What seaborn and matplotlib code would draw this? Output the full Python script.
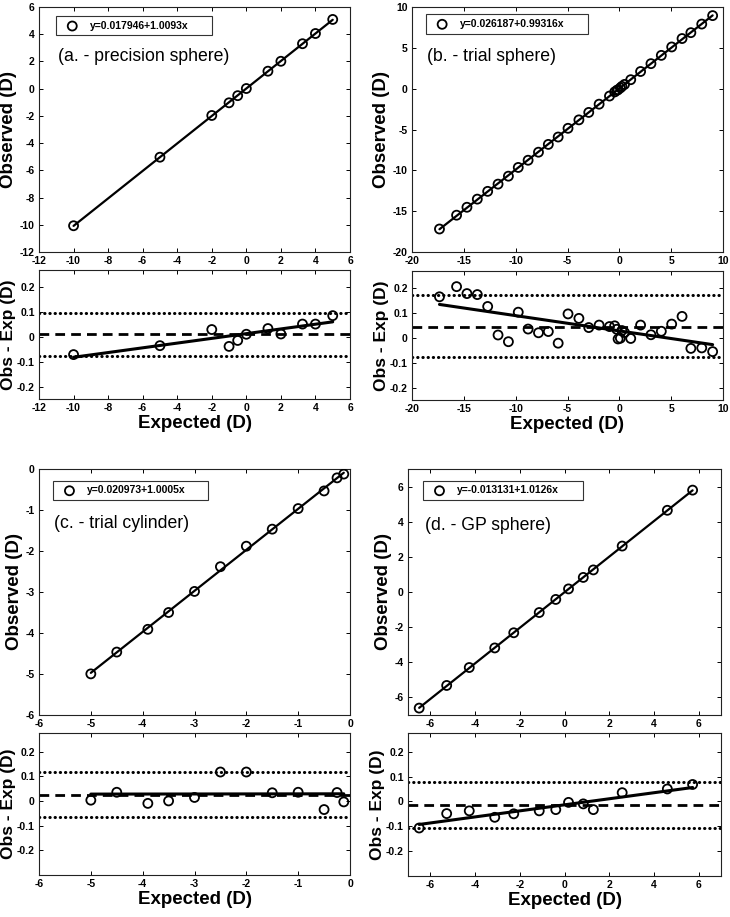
import matplotlib
matplotlib.use("Agg")
import matplotlib.pyplot as plt
import numpy as np
import seaborn as sns

# ---- data ----
a_expected = [-10, -5, -2, -1, -0.5, 0, 1.25, 2, 3.25, 4, 5]
a_diff = [-0.071, -0.035, 0.030, -0.038, -0.014, 0.011, 0.034, 0.012, 0.052, 0.052, 0.086]

b_expected = [-17.35, -15.7, -14.7, -13.7, -12.7, -11.7, -10.7, -9.75, -8.8, -7.8,
              -6.85, -5.9, -4.95, -3.9, -2.95, -1.95, -0.95, -0.45, -0.25, -0.12,
              0.1, 0.25, 0.5, 1.1, 2.05, 3.05, 4.05, 5.05, 6.05, 6.9, 7.95, 9.0]
b_diff = [0.166, 0.207, 0.179, 0.175, 0.127, 0.012, -0.015, 0.104, 0.036, 0.021,
          0.026, -0.021, 0.097, 0.079, 0.042, 0.052, 0.046, 0.049, 0.035, -0.004,
          -0.001, 0.030, 0.022, -0.002, 0.052, 0.013, 0.027, 0.056, 0.087, -0.042,
          -0.040, -0.055]

c_expected = [-5, -4.5, -3.9, -3.5, -3, -2.5, -2, -1.5, -1, -0.5, -0.25, -0.12]
c_diff = [0.003, 0.035, -0.010, 0.0, 0.014, 0.117, 0.117, 0.033, 0.035, -0.035, 0.034, -0.004]

d_expected = [-6.5, -5.27, -4.26, -3.12, -2.27, -1.13, -0.39, 0.18, 0.84, 1.29, 2.58, 4.6, 5.73]
d_diff = [-0.107, -0.049, -0.038, -0.064, -0.050, -0.038, -0.033, -0.004, -0.010, -0.033,
          0.035, 0.050, 0.068]

# mean, lower limit, upper limit of the differences
a_limits = [0.011, -0.078, 0.098]
b_limits = [0.045, -0.077, 0.175]
c_limits = [0.023, -0.064, 0.117]
d_limits = [-0.016, -0.109, 0.076]

fit_labels = ["y=0.017946+1.0093x", "y=0.026187+0.99316x",
              "y=0.020973+1.0005x", "y=-0.013131+1.0126x"]
titles = ["(a. - precision sphere)", "(b. - trial sphere)",
          "(c. - trial cylinder)", "(d. - GP sphere)"]

sns.set_style("ticks")
plt.rcParams['font.family'] = ['Liberation Sans', 'DejaVu Sans']
plt.rcParams['font.weight'] = 'bold'
plt.rcParams['axes.labelweight'] = 'bold'
plt.rcParams['axes.unicode_minus'] = False
plt.rcParams['axes.linewidth'] = 0.8
plt.rcParams['axes.edgecolor'] = '#222222'
plt.rcParams['text.color'] = 'black'
plt.rcParams['axes.labelcolor'] = 'black'

W, H = 730, 917
fig = plt.figure(figsize=(7.3, 9.17), dpi=100)


def box(left, top, right, bottom):
    return [left / W, (H - bottom) / H, (right - left) / W, (bottom - top) / H]


panels = [
    dict(x=a_expected, d=a_diff, lim=a_limits, xlim=(-12, 6), xt=np.arange(-12, 7, 2),
         top=box(39, 7, 350, 252), bot=box(39, 270, 350, 399), dylim=(-0.25, 0.27),
         title_pos=(0.062, 0.796), leg_pos=(0.055, 0.963, 0.502)),
    dict(x=b_expected, d=b_diff, lim=b_limits, xlim=(-20, 10), xt=np.arange(-20, 11, 5),
         top=box(412, 7, 723, 252), bot=box(412, 271, 723, 400), dylim=(-0.25, 0.27),
         title_pos=(0.048, 0.796), leg_pos=(0.045, 0.970, 0.52)),
    dict(x=c_expected, d=c_diff, lim=c_limits, xlim=(-6, 0), xt=np.arange(-6, 1, 1),
         top=box(39, 469, 350, 715), bot=box(39, 733, 350, 875), dylim=(-0.3, 0.275),
         title_pos=(0.048, 0.779), leg_pos=(0.046, 0.952, 0.497)),
    dict(x=d_expected, d=d_diff, lim=d_limits, xlim=(-7, 7), xt=np.arange(-6, 7, 2),
         top=box(408, 469, 721, 715), bot=box(408, 733, 721, 876), dylim=(-0.3, 0.275),
         title_pos=(0.054, 0.772), leg_pos=(0.049, 0.952, 0.51)),
]


def style_axis(ax):
    ax.tick_params(direction='in', length=3, width=0.7, labelsize=7.5, pad=3,
                   top=True, right=True, colors='black')
    for lab in ax.get_xticklabels() + ax.get_yticklabels():
        lab.set_fontweight('bold')


for i, p in enumerate(panels):
    expected = np.array(p['x'])
    diff = np.array(p['d'])
    observed = expected + diff

    # observed vs expected
    ax = fig.add_axes(p['top'])
    sns.regplot(x=expected, y=observed, ax=ax, scatter=False, ci=None, truncate=True,
                color='black', line_kws={'lw': 1.6})
    sns.scatterplot(x=expected, y=observed, ax=ax, marker='o', s=42, facecolor='none',
                    edgecolor='black', linewidth=1.3, label=fit_labels[i], zorder=3)
    ax.set_xlim(p['xlim'])
    ax.set_ylim(p['xlim'])
    ax.set_xticks(p['xt'])
    ax.set_yticks(p['xt'])
    ax.set_xticklabels([f"{v:g}" for v in p['xt']])
    ax.set_yticklabels([f"{v:g}" for v in p['xt']])
    ax.set_ylabel("Observed (D)", fontsize=13.5, labelpad=2)
    ax.set_xlabel("")
    lx, ly, lw = p['leg_pos']
    leg = ax.legend(loc='upper left', bbox_to_anchor=(lx, ly - 0.001, lw, 0.001),
                    mode='expand', borderaxespad=0,
                    frameon=True, fancybox=False, edgecolor='#333333', framealpha=1,
                    prop={'size': 7.5, 'weight': 'bold'}, handletextpad=0.6,
                    handlelength=2.2, borderpad=0.45)
    leg.get_frame().set_linewidth(0.8)
    ax.text(p['title_pos'][0], p['title_pos'][1], titles[i], transform=ax.transAxes,
            fontsize=12.7, fontweight='normal', va='center', ha='left')
    style_axis(ax)

    # differences
    ax2 = fig.add_axes(p['bot'])
    mean, lo, hi = p['lim']
    ax2.axhline(mean, color='black', lw=2.0, linestyle=(0, (3.5, 2.2)))
    for v in (lo, hi):
        ax2.axhline(v, color='black', lw=2.2, linestyle=(0, (0.1, 1.6)),
                    dash_capstyle='round')
    sns.regplot(x=expected, y=diff, ax=ax2, scatter=False, ci=None, truncate=True,
                color='black', line_kws={'lw': 2.2})
    sns.scatterplot(x=expected, y=diff, ax=ax2, marker='o', s=42, facecolor='none',
                    edgecolor='black', linewidth=1.3, zorder=3, legend=False)
    ax2.set_xlim(p['xlim'])
    ax2.set_ylim(p['dylim'])
    ax2.set_xticks(p['xt'])
    ax2.set_xticklabels([f"{v:g}" for v in p['xt']])
    yt = [-0.2, -0.1, 0, 0.1, 0.2]
    ax2.set_yticks(yt)
    ax2.set_yticklabels([f"{v:g}" for v in yt])
    ax2.set_ylabel("Obs - Exp (D)", fontsize=12.5, labelpad=1)
    ax2.set_xlabel("Expected (D)", fontsize=13.5, labelpad=1)
    style_axis(ax2)

fig.savefig("out.png", dpi=100)
